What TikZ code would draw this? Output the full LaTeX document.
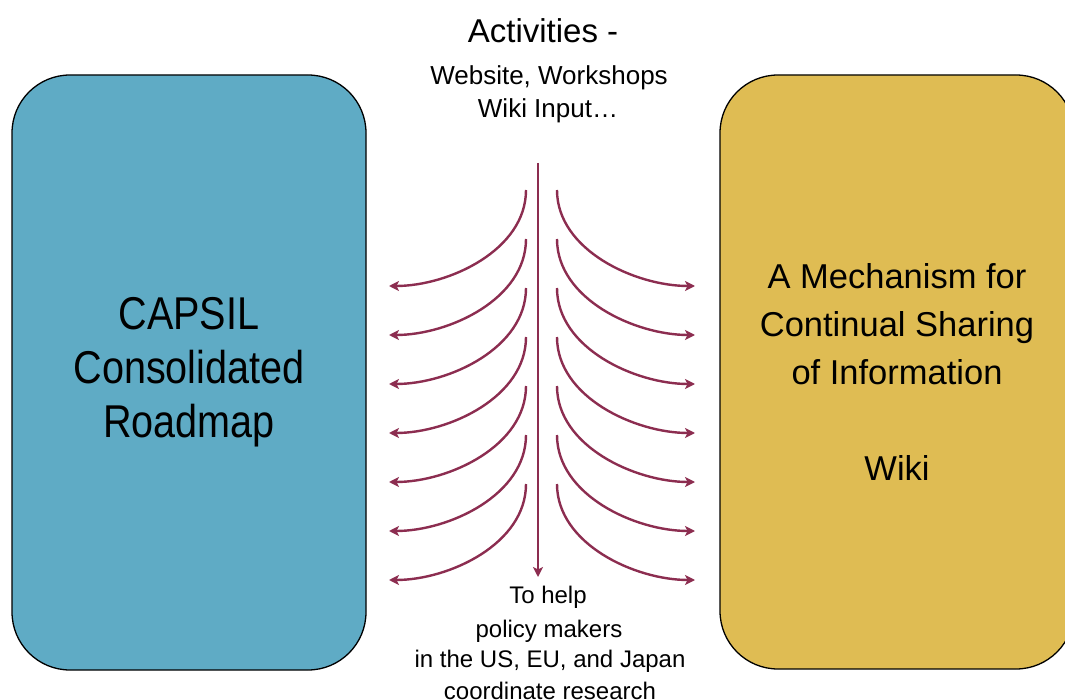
\documentclass[tikz,border=0pt]{standalone}
\usepackage{fontspec}
\setmainfont{Liberation Sans}
\newfontfamily\narrowfont[FakeStretch=0.86]{Liberation Sans}
\usetikzlibrary{arrows.meta,calc}
\definecolor{boxblue}{RGB}{95,171,197}
\definecolor{boxgold}{RGB}{223,188,83}
\definecolor{arrowred}{RGB}{140,45,80}
\tikzset{
  bigbox/.style={draw=black, line width=1.3pt, rounded corners=58pt, inner sep=0pt, align=center},
  flow/.style={draw=arrowred, line width=2.4pt, -{Stealth[length=10pt,width=10pt,inset=2.5pt]}},
  toptext/.style={anchor=base, inner sep=0pt},
}
\begin{document}
\begin{tikzpicture}[x=1pt,y=-1pt]
\useasboundingbox (0,0) rectangle (1065,700);
\clip (0,0) rectangle (1065,700);
\node[bigbox, fill=boxblue, minimum width=354pt, minimum height=595pt,
      font={\narrowfont\fontsize{46}{54}\selectfont}] (left) at (189,372.5)
  {CAPSIL\\Consolidated\\Roadmap};
\node[bigbox, fill=boxgold, minimum width=354pt, minimum height=594pt,
      font={\fontsize{34.5}{48}\selectfont}] (right) at (897,372)
  {A Mechanism for\\Continual Sharing\\of Information\\[48pt]Wiki};
\node[toptext, font={\fontsize{33}{38}\selectfont}] (t1) at (543,43) {Activities -};
\node[toptext, font={\fontsize{26}{30}\selectfont}] (t2) at (549,85) {Website, Workshops};
\node[toptext, font={\fontsize{26}{30}\selectfont}] (t3) at (548,118) {Wiki Input…};
\node[toptext, font={\fontsize{24}{28}\selectfont}] (b1) at (548,603) {To help};
\node[toptext, font={\fontsize{24}{28}\selectfont}] (b2) at (549,637) {policy makers};
\node[toptext, font={\fontsize{24}{28}\selectfont}] (b3) at (550,667) {in the US, EU, and Japan};
\node[toptext, font={\fontsize{24}{28}\selectfont}] (b4) at (550,699) {coordinate research};
\coordinate (vtop) at (538,163);
\coordinate (vbot) at (538,577);
\draw[flow] (vtop) -- (vbot);
\foreach \i in {0,...,6}{
  \pgfmathsetmacro{\ys}{190+49*\i}
  \pgfmathsetmacro{\ye}{286+49*\i}
  \coordinate (ls\i) at (526,\ys);
  \coordinate (le\i) at (389,\ye);
  \coordinate (rs\i) at (557,\ys);
  \coordinate (re\i) at (695,\ye);
  \draw[flow] (ls\i) .. controls ($(ls\i)+(0,60)$) and ($(le\i)+(60,0)$) .. (le\i);
  \draw[flow] (rs\i) .. controls ($(rs\i)+(0,60)$) and ($(re\i)+(-60,0)$) .. (re\i);
}
\end{tikzpicture}
\end{document}
